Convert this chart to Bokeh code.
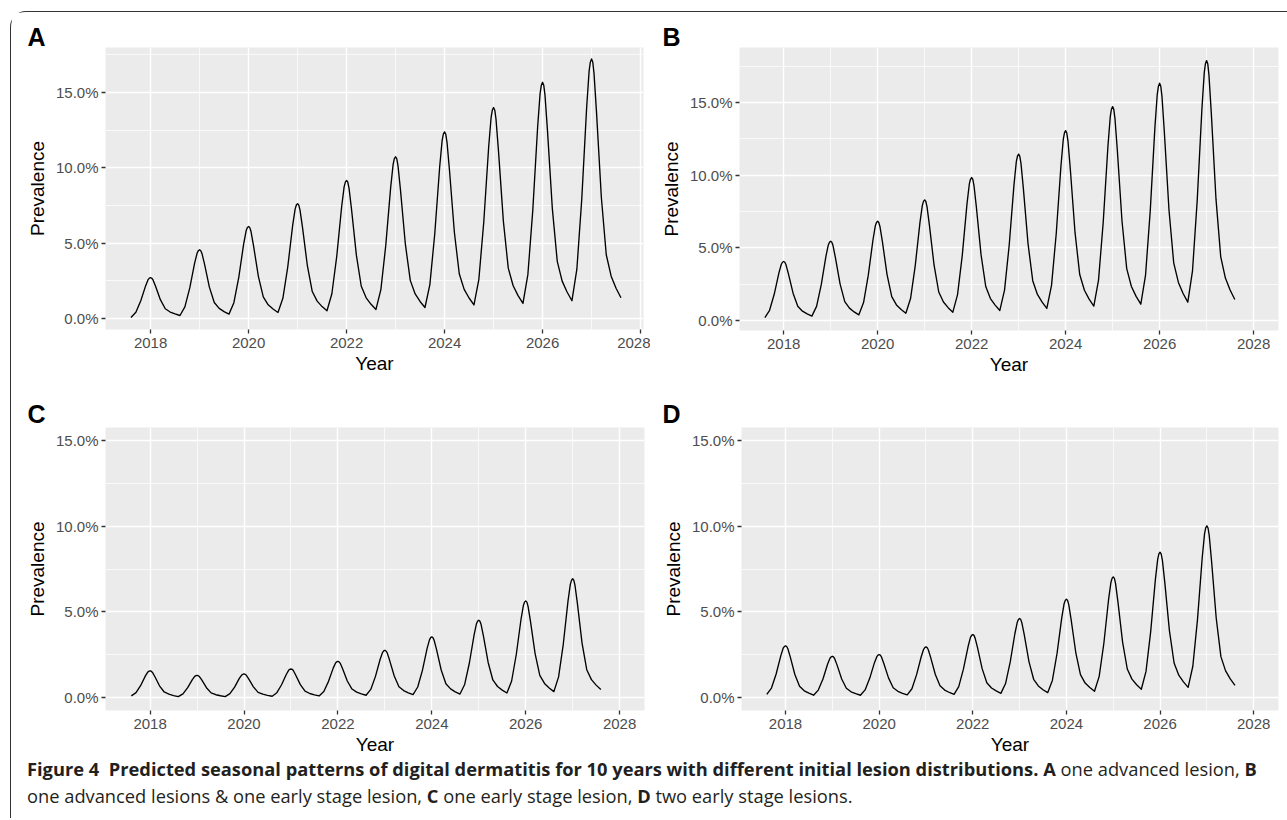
from bokeh.plotting import figure
from bokeh.layouts import column, row
from bokeh.models import Range1d, FixedTicker, PrintfTickFormatter, Div
from bokeh.embed import file_html
from bokeh.resources import INLINE

YEARS = [
    2017.6, 2017.7, 2017.8, 2017.9, 2017.95, 2017.975, 2018.0, 2018.025, 2018.05, 2018.1, 2018.2, 2018.3, 2018.4, 2018.5,
    2018.6, 2018.7, 2018.8, 2018.9, 2018.95, 2018.975, 2019.0, 2019.025, 2019.05, 2019.1, 2019.2, 2019.3, 2019.4, 2019.5,
    2019.6, 2019.7, 2019.8, 2019.9, 2019.95, 2019.975, 2020.0, 2020.025, 2020.05, 2020.1, 2020.2, 2020.3, 2020.4, 2020.5,
    2020.6, 2020.7, 2020.8, 2020.9, 2020.95, 2020.975, 2021.0, 2021.025, 2021.05, 2021.1, 2021.2, 2021.3, 2021.4, 2021.5,
    2021.6, 2021.7, 2021.8, 2021.9, 2021.95, 2021.975, 2022.0, 2022.025, 2022.05, 2022.1, 2022.2, 2022.3, 2022.4, 2022.5,
    2022.6, 2022.7, 2022.8, 2022.9, 2022.95, 2022.975, 2023.0, 2023.025, 2023.05, 2023.1, 2023.2, 2023.3, 2023.4, 2023.5,
    2023.6, 2023.7, 2023.8, 2023.9, 2023.95, 2023.975, 2024.0, 2024.025, 2024.05, 2024.1, 2024.2, 2024.3, 2024.4, 2024.5,
    2024.6, 2024.7, 2024.8, 2024.9, 2024.95, 2024.975, 2025.0, 2025.025, 2025.05, 2025.1, 2025.2, 2025.3, 2025.4, 2025.5,
    2025.6, 2025.7, 2025.8, 2025.9, 2025.95, 2025.975, 2026.0, 2026.025, 2026.05, 2026.1, 2026.2, 2026.3, 2026.4, 2026.5,
    2026.6, 2026.7, 2026.8, 2026.9, 2026.95, 2026.975, 2027.0, 2027.025, 2027.05, 2027.1, 2027.2, 2027.3, 2027.4, 2027.5,
    2027.6,
]

# Prevalence (%) - A: one advanced lesion
PREV_A = [
    0.07, 0.41, 1.18, 2.18, 2.58, 2.68, 2.71, 2.67, 2.56, 2.16, 1.25, 0.65, 0.43, 0.30,
    0.20, 0.77, 2.03, 3.69, 4.34, 4.50, 4.56, 4.50, 4.30, 3.62, 2.08, 1.06, 0.67, 0.46,
    0.29, 1.05, 2.73, 4.95, 5.82, 6.03, 6.11, 6.03, 5.77, 4.85, 2.80, 1.43, 0.91, 0.63,
    0.40, 1.34, 3.43, 6.18, 7.26, 7.53, 7.62, 7.52, 7.19, 6.06, 3.50, 1.79, 1.15, 0.79,
    0.51, 1.64, 4.14, 7.43, 8.73, 9.05, 9.16, 9.04, 8.65, 7.28, 4.20, 2.14, 1.37, 0.94,
    0.60, 1.92, 4.85, 8.70, 10.22, 10.60, 10.73, 10.59, 10.13, 8.53, 4.93, 2.53, 1.63, 1.13,
    0.73, 2.25, 5.62, 10.05, 11.80, 12.23, 12.38, 12.22, 11.69, 9.85, 5.72, 2.97, 1.93, 1.36,
    0.90, 2.60, 6.40, 11.38, 13.35, 13.83, 14.00, 13.82, 13.22, 11.14, 6.46, 3.34, 2.17, 1.52,
    1.00, 2.91, 7.16, 12.74, 14.94, 15.48, 15.67, 15.47, 14.80, 12.48, 7.27, 3.79, 2.48, 1.76,
    1.18, 3.27, 7.92, 14.01, 16.42, 17.01, 17.22, 17.00, 16.27, 13.74, 8.03, 4.23, 2.81, 2.01,
    1.38,
]

# B: one advanced lesion & one early stage lesion
PREV_B = [
    0.20, 0.70, 1.82, 3.29, 3.87, 4.01, 4.06, 4.01, 3.83, 3.23, 1.88, 0.98, 0.64, 0.45,
    0.30, 0.97, 2.47, 4.43, 5.20, 5.39, 5.46, 5.39, 5.16, 4.34, 2.52, 1.30, 0.85, 0.59,
    0.39, 1.23, 3.10, 5.54, 6.51, 6.75, 6.83, 6.74, 6.45, 5.44, 3.16, 1.64, 1.07, 0.75,
    0.50, 1.51, 3.78, 6.74, 7.91, 8.20, 8.30, 8.19, 7.84, 6.60, 3.82, 1.96, 1.27, 0.88,
    0.57, 1.78, 4.46, 7.99, 9.38, 9.72, 9.84, 9.71, 9.29, 7.83, 4.53, 2.34, 1.51, 1.06,
    0.69, 2.09, 5.21, 9.30, 10.91, 11.31, 11.45, 11.30, 10.81, 9.11, 5.29, 2.74, 1.79, 1.26,
    0.83, 2.42, 5.97, 10.62, 12.46, 12.91, 13.07, 12.90, 12.35, 10.41, 6.06, 3.16, 2.08, 1.47,
    0.99, 2.78, 6.76, 11.97, 14.03, 14.54, 14.72, 14.53, 13.90, 11.73, 6.83, 3.57, 2.34, 1.66,
    1.12, 3.10, 7.51, 13.29, 15.57, 16.13, 16.33, 16.12, 15.43, 13.01, 7.59, 3.97, 2.62, 1.86,
    1.26, 3.42, 8.25, 14.56, 17.06, 17.67, 17.89, 17.66, 16.90, 14.27, 8.35, 4.40, 2.92, 2.10,
    1.44,
]

# C: one early stage lesion
PREV_C = [
    0.10, 0.29, 0.71, 1.27, 1.49, 1.54, 1.56, 1.54, 1.47, 1.23, 0.69, 0.33, 0.20, 0.12,
    0.06, 0.22, 0.58, 1.05, 1.24, 1.28, 1.30, 1.28, 1.23, 1.03, 0.58, 0.28, 0.17, 0.11,
    0.06, 0.23, 0.61, 1.12, 1.31, 1.36, 1.38, 1.36, 1.30, 1.09, 0.63, 0.31, 0.20, 0.13,
    0.08, 0.29, 0.75, 1.35, 1.59, 1.65, 1.67, 1.65, 1.58, 1.32, 0.76, 0.38, 0.24, 0.16,
    0.10, 0.36, 0.95, 1.72, 2.02, 2.09, 2.12, 2.09, 2.00, 1.68, 0.97, 0.50, 0.32, 0.22,
    0.14, 0.48, 1.24, 2.24, 2.63, 2.73, 2.76, 2.72, 2.61, 2.19, 1.26, 0.64, 0.41, 0.28,
    0.18, 0.62, 1.59, 2.87, 3.37, 3.50, 3.54, 3.49, 3.34, 2.81, 1.61, 0.81, 0.51, 0.34,
    0.21, 0.77, 2.02, 3.65, 4.30, 4.45, 4.51, 4.45, 4.26, 3.58, 2.05, 1.03, 0.65, 0.44,
    0.27, 0.97, 2.53, 4.57, 5.37, 5.57, 5.64, 5.57, 5.32, 4.48, 2.57, 1.30, 0.83, 0.56,
    0.35, 1.21, 3.11, 5.61, 6.60, 6.84, 6.93, 6.84, 6.54, 5.51, 3.18, 1.63, 1.05, 0.73,
    0.47,
]

# D: two early stage lesions
PREV_D = [
    0.19, 0.56, 1.38, 2.45, 2.88, 2.98, 3.02, 2.98, 2.85, 2.39, 1.35, 0.66, 0.40, 0.26,
    0.14, 0.44, 1.09, 1.96, 2.30, 2.38, 2.41, 2.38, 2.27, 1.91, 1.09, 0.55, 0.34, 0.23,
    0.14, 0.45, 1.14, 2.04, 2.39, 2.48, 2.51, 2.48, 2.37, 1.99, 1.15, 0.58, 0.37, 0.25,
    0.16, 0.52, 1.34, 2.40, 2.82, 2.92, 2.96, 2.92, 2.79, 2.35, 1.35, 0.69, 0.44, 0.30,
    0.19, 0.64, 1.66, 2.98, 3.51, 3.63, 3.68, 3.63, 3.47, 2.93, 1.69, 0.87, 0.56, 0.39,
    0.25, 0.82, 2.08, 3.74, 4.39, 4.55, 4.61, 4.55, 4.35, 3.66, 2.10, 1.07, 0.68, 0.46,
    0.29, 1.00, 2.58, 4.65, 5.47, 5.67, 5.74, 5.66, 5.42, 4.56, 2.63, 1.34, 0.85, 0.59,
    0.37, 1.24, 3.17, 5.71, 6.71, 6.95, 7.04, 6.95, 6.65, 5.60, 3.24, 1.67, 1.08, 0.75,
    0.49, 1.53, 3.85, 6.88, 8.08, 8.38, 8.48, 8.37, 8.01, 6.75, 3.91, 2.02, 1.31, 0.92,
    0.60, 1.83, 4.56, 8.14, 9.55, 9.90, 10.02, 9.89, 9.46, 7.97, 4.63, 2.39, 1.56, 1.09,
    0.72,
]

X_TICKS = [2018, 2020, 2022, 2024, 2026, 2028]
X_MINOR = [2017, 2019, 2021, 2023, 2025, 2027]
Y_TICKS = [0, 5, 10, 15]
Y_MINOR = [2.5, 7.5, 12.5, 17.5]

PANEL_LABELS = ["A", "B", "C", "D"]
X_LABEL = "Year"
Y_LABEL = "Prevalence"

CAPTION_HTML = (
    "<b>Figure 4&nbsp; Predicted seasonal patterns of digital dermatitis for 10 years with "
    "different initial lesion distributions. A</b> one advanced lesion, <b>B</b><br>"
    "one advanced lesions &amp; one early stage lesion, <b>C</b> one early stage lesion, "
    "<b>D</b> two early stage lesions."
)

FONT = "Liberation Sans"


def make_panel(label, y, xr, yr, mb_left, frame_w, mb_right, mb_top, frame_h, mb_bottom,
               title_offset, title_standoff):
    p = figure(
        frame_width=frame_w, frame_height=frame_h,
        min_border_left=mb_left, min_border_right=mb_right,
        min_border_top=mb_top, min_border_bottom=mb_bottom,
        x_range=Range1d(*xr), y_range=Range1d(*yr),
        output_backend="svg", toolbar_location=None,
        background_fill_color="#EBEBEB", border_fill_color="white",
        outline_line_color=None,
    )
    p.title.text = label
    p.title.text_font = FONT
    p.title.text_font_size = "25px"
    p.title.text_font_style = "bold"
    p.title.text_color = "black"
    p.title.align = "left"
    p.title.offset = title_offset
    p.title.standoff = title_standoff

    p.line(YEARS, y, line_color="black", line_width=1.35, line_join="round")

    p.xaxis.ticker = FixedTicker(ticks=X_TICKS, minor_ticks=X_MINOR)
    p.yaxis.ticker = FixedTicker(ticks=Y_TICKS, minor_ticks=Y_MINOR)
    p.yaxis.formatter = PrintfTickFormatter(format="%.1f%%")
    for ax in (p.xaxis, p.yaxis):
        ax.axis_line_color = None
        ax.major_tick_in = 0
        ax.major_tick_out = 4
        ax.major_tick_line_color = "#333333"
        ax.major_tick_line_width = 1.3
        ax.minor_tick_line_color = None
        ax.major_label_text_font = FONT
        ax.major_label_text_font_size = "15px"
        ax.major_label_text_color = "#4D4D4D"
        ax.axis_label_text_font = FONT
        ax.axis_label_text_font_size = "19px"
        ax.axis_label_text_font_style = "normal"
        ax.axis_label_text_color = "black"
    p.xaxis.axis_label = X_LABEL
    p.yaxis.axis_label = Y_LABEL
    p.xaxis.major_label_standoff = 4
    p.xaxis.axis_label_standoff = 2
    p.yaxis.major_label_standoff = 3
    p.yaxis.axis_label_standoff = 5

    p.grid.grid_line_color = "white"
    p.grid.grid_line_width = 1.4
    p.grid.minor_grid_line_color = "white"
    p.grid.minor_grid_line_width = 0.7
    return p


pA = make_panel(PANEL_LABELS[0], PREV_A, (2017.08, 2028.06), (-0.73, 17.98),
                94, 538, 7, 35, 282, 56, -78, -6)
pB = make_panel(PANEL_LABELS[1], PREV_B, (2017.06, 2028.53), (-0.69, 18.79),
                89, 539, 7, 35, 283, 55, -77, -6)
pC = make_panel(PANEL_LABELS[2], PREV_C, (2017.05, 2028.53), (-0.75, 15.75),
                94, 539, 6, 42, 283, 45, -78, 0)
pD = make_panel(PANEL_LABELS[3], PREV_D, (2017.06, 2028.53), (-0.75, 15.75),
                91, 537, 7, 42, 283, 45, -79, 0)

cap = Div(
    text=CAPTION_HTML, width=1265, height=58,
    styles={"font-family": "Open Sans", "font-size": "18.3px", "color": "#231f20",
            "line-height": "27px", "margin-left": "16px", "margin-top": "-2px",
            "white-space": "nowrap"},
)

root = column(
    row(pA, pB), row(pC, pD), cap,
    styles={"margin-left": "10px", "margin-top": "11px",
            "border-top": "1.5px solid #333333", "border-left": "1.5px solid #333333",
            "border-top-left-radius": "16px"},
)

open("out.html", "w").write(file_html(root, INLINE))
